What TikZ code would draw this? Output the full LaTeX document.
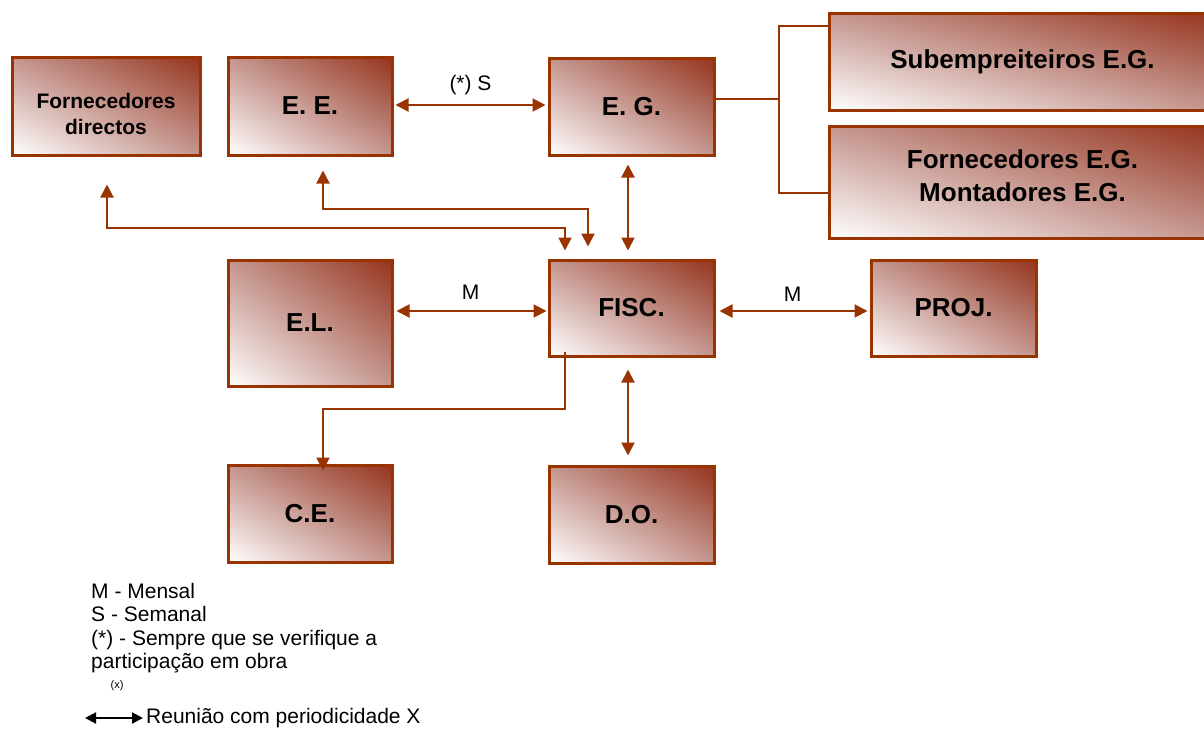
\documentclass[tikz,border=0pt]{standalone}
\usepackage{fontspec}
\setmainfont{Liberation Sans}
\usetikzlibrary{arrows.meta,shadings}
\definecolor{brd}{RGB}{153,51,0}
\definecolor{shd}{RGB}{150,52,30}
\definecolor{shm}{RGB}{196,150,143}
\begin{document}
\begin{tikzpicture}[x=1pt,y=-1pt,
  >={Triangle[length=13pt,width=13pt]},
  blk/.style={draw=brd, line width=3pt, shading=bilinear interpolation,
    lower left=white, upper right=shd, upper left=shm, lower right=shm,
    inner sep=0pt, align=center,
    font=\bfseries\fontsize{26}{33}\selectfont},
  blktext/.style={inner sep=0pt, align=center},
  conn/.style={draw=brd, line width=2pt},
  lbl/.style={font=\fontsize{21}{23.5}\selectfont, inner sep=0pt}
]
\clip (0,0) rectangle (1204,729);
\useasboundingbox (0,0) rectangle (1204,729);

% boxes
\node[blk, minimum width=188pt, minimum height=98pt,
  label={[blktext, yshift=-8pt, font=\bfseries\fontsize{21}{26}\selectfont]center:Fornecedores\\directos}] (fd) at (106,106) {};
\node[blk, minimum width=164pt, minimum height=98pt] (ee) at (310,106) {E. E.};
\node[blk, minimum width=165pt, minimum height=97pt] (eg) at (631.5,106.5) {E. G.};
\node[blk, minimum width=387pt, minimum height=97pt] (sub) at (1022.5,61.5) {Subempreiteiros E.G.};
\node[blk, minimum width=387pt, minimum height=112pt,
  label={[blktext, yshift=6.5pt, font=\bfseries\fontsize{26}{33}\selectfont]center:Fornecedores E.G.\\Montadores E.G.}] (fm) at (1022.5,182) {};
\node[blk, minimum width=165pt, minimum height=96pt] (fisc) at (631.5,308) {FISC.};
\node[blk, minimum width=164pt, minimum height=126pt] (el) at (310,323) {E.L.};
\node[blk, minimum width=165pt, minimum height=96pt] (proj) at (953.5,308) {PROJ.};
\node[blk, minimum width=164pt, minimum height=97pt] (ce) at (310,513.5) {C.E.};
\node[blk, minimum width=165pt, minimum height=97pt] (do) at (631.5,514.5) {D.O.};

% bend points
\coordinate (br) at (779,99);
\coordinate (bt) at (779,26);
\coordinate (bb) at (779,193);
\coordinate (fdk) at (107,228);
\coordinate (f1) at (565,0);
\coordinate (eek) at (323,209);
\coordinate (f2) at (588,0);
\coordinate (cek) at (565,409);
\coordinate (cex) at (323,0);
\coordinate (vx) at (628,0);

% E.E. -- E.G.
\draw[conn,<->,shorten <=2pt,shorten >=2pt] (ee.east |- 0,105) -- (eg.west |- 0,105)
  node[midway, above=9pt, lbl] {(*) S};
% E.G. -- subcontractors / suppliers
\draw[conn] (eg.east |- br) -- (br);
\draw[conn] (sub.west |- bt) -- (bt) -- (bb) -- (fm.west |- bb);
% E.G. -- FISC.
\draw[conn,<->,shorten <=8pt,shorten >=8pt] (eg.south -| vx) -- (fisc.north -| vx);
% Fornecedores directos -- FISC.
\draw[conn,<->,shorten <=28pt,shorten >=8pt] (fd.south -| fdk) -- (fdk) -| (fisc.north -| f1);
% E.E. -- FISC.
\draw[conn,<->,shorten <=14pt,shorten >=12pt] (ee.south -| eek) -- (eek) -| (fisc.north -| f2);
% E.L. -- FISC. -- PROJ.
\draw[conn,<->,shorten <=3pt,shorten >=1pt] (el.east |- 0,311) -- (fisc.west |- 0,311)
  node[midway, above=11pt, lbl] {M};
\draw[conn,<->,shorten <=4pt,shorten >=2pt] (fisc.east |- 0,311) -- (proj.west |- 0,311)
  node[midway, above=9pt, lbl] {M};
% FISC. -- C.E.
\draw[conn,->,shorten <=-6pt,shorten >=-7pt] (fisc.south -| f1) -- (cek) -| (ce.north -| cex);
% FISC. -- D.O.
\draw[conn,<->,shorten <=12pt,shorten >=9pt] (fisc.south -| vx) -- (do.north -| vx);

% legend
\node[lbl, anchor=north west, align=left] (leg) at (91,583)
  {M - Mensal\\S - Semanal\\(*) - Sempre que se verifique a\\participação em obra};
\node[inner sep=0pt, font=\fontsize{11}{12}\selectfont] (lx) at (117,686) {(x)};
\coordinate (la) at (85,718);
\node[lbl, anchor=west] (lt) at (146,718) {Reunião com periodicidade X};
\draw[line width=2pt, {Triangle[length=11pt,width=11pt]}-{Triangle[length=11pt,width=11pt]}]
  (la) -- ([xshift=-3pt]lt.west);
\end{tikzpicture}
\end{document}
